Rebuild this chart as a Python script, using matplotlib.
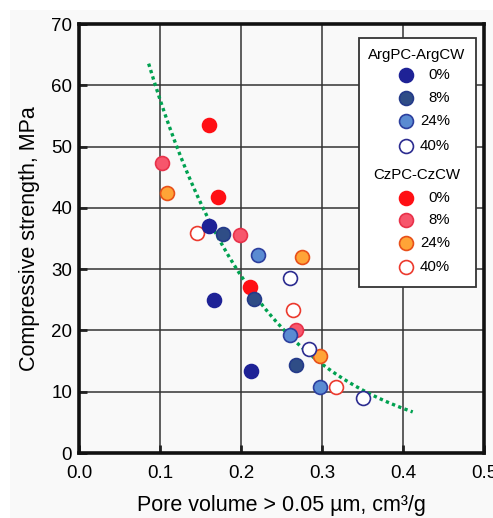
import numpy as np
import matplotlib.pyplot as plt
from matplotlib.patches import Rectangle

plt.rcParams['font.family'] = ['Liberation Sans', 'DejaVu Sans']

# Datos (volumen de poros, resistencia)
arg_0_x = [0.160, 0.167, 0.212]
arg_0_y = [37.0, 24.9, 13.3]
arg_8_x = [0.178, 0.216, 0.268]
arg_8_y = [35.8, 25.2, 14.4]
arg_24_x = [0.221, 0.261, 0.298]
arg_24_y = [32.3, 19.3, 10.7]
arg_40_x = [0.261, 0.284, 0.351]
arg_40_y = [28.5, 16.9, 9.0]

cz_0_x = [0.160, 0.172, 0.211]
cz_0_y = [53.5, 41.8, 27.1]
cz_8_x = [0.102, 0.199, 0.268]
cz_8_y = [47.3, 35.6, 20.0]
cz_24_x = [0.109, 0.275, 0.297]
cz_24_y = [42.4, 32.0, 15.9]
cz_40_x = [0.146, 0.264, 0.317]
cz_40_y = [35.9, 23.4, 10.8]

labels = ['0%', '8%', '24%', '40%']

# Curva de tendencia exponencial y = A*exp(-K*x)
FIT_A = 115.0
FIT_K = 6.9
FIT_XMIN, FIT_XMAX = 0.086, 0.412

# Estilos (relleno, borde)
arg_styles = [('#1e2296', '#1e2296'), ('#2f4d86', '#243a8a'),
              ('#5a8bd2', '#2c3f9e'), ('#ffffff', '#2c2c90')]
cz_styles = [('#ff0f14', '#ff0f14'), ('#f7566c', '#e8324a'),
             ('#ffa437', '#e8501a'), ('#ffffff', '#ec3a2e')]

arg_data = [(arg_0_x, arg_0_y), (arg_8_x, arg_8_y), (arg_24_x, arg_24_y), (arg_40_x, arg_40_y)]
cz_data = [(cz_0_x, cz_0_y), (cz_8_x, cz_8_y), (cz_24_x, cz_24_y), (cz_40_x, cz_40_y)]

BG = '#f9f9f9'
fig = plt.figure(figsize=(4.93, 5.18), dpi=100, facecolor='white')
fig.patches.append(Rectangle((10/493, 0), 1, 508/518, transform=fig.transFigure,
                             facecolor=BG, edgecolor='none', zorder=-10))
ax = fig.add_axes([79/493, 65/518, 405/493, 429/518])
ax.set_facecolor(BG)

ax.set_xlim(0, 0.5)
ax.set_ylim(0, 70)
ax.set_xticks(np.arange(0, 0.51, 0.1))
ax.set_yticks(np.arange(0, 71, 10))
ax.set_xticklabels(['%.1f' % v for v in np.arange(0, 0.51, 0.1)])
ax.grid(True, color='#333333', linewidth=1.1, zorder=0)
ax.tick_params(direction='in', length=6, width=2, labelsize=13.5, color='#222222')
ax.tick_params(axis='x', pad=9)
ax.tick_params(axis='y', pad=5)
for sp in ax.spines.values():
    sp.set_linewidth(2.6)
    sp.set_color('#111111')

# Curva de ajuste
xf = np.linspace(FIT_XMIN, FIT_XMAX, 200)
ax.plot(xf, FIT_A * np.exp(-FIT_K * xf), color='#00a150', linewidth=2.4,
        linestyle=(0, (1, 1)), dash_capstyle='butt', zorder=3)

# Puntos
for (xs, ys), (fc, ec) in zip(cz_data, cz_styles):
    ax.plot(xs, ys, 'o', ms=10, mfc=fc, mec=ec, mew=1.2, zorder=4)
for (xs, ys), (fc, ec) in zip(arg_data, arg_styles):
    ax.plot(xs, ys, 'o', ms=10, mfc=fc, mec=ec, mew=1.2, zorder=4)

ax.set_xlabel('Pore volume > 0.05 µm, cm³/g', fontsize=15.5, labelpad=9)
ax.set_ylabel('Compressive strength, MPa', fontsize=15.5, labelpad=8)

# Leyenda dibujada a mano con dos bloques
def ay(py):
    return (453 - py) / 429.0

def axx(px):
    return (px - 79) / 405.0

ax.add_patch(Rectangle((axx(359), ay(287)), axx(476) - axx(359), ay(38) - ay(287),
                       transform=ax.transAxes, facecolor='white', edgecolor='#333333',
                       linewidth=1.3, zorder=6))

blocks = [('ArgPC-ArgCW', 55, [75, 98, 121, 146], arg_styles),
          ('CzPC-CzCW', 175, [198, 220, 243, 267], cz_styles)]
for title, ty, rows, styles in blocks:
    ax.text(axx(417), ay(ty), title, transform=ax.transAxes, ha='center', va='center',
            fontsize=10.8, zorder=7)
    for py, lab, (fc, ec) in zip(rows, labels, styles):
        ax.plot([axx(406)], [ay(py)], 'o', ms=10, mfc=fc, mec=ec, mew=1.2,
                transform=ax.transAxes, clip_on=False, zorder=7)
        ax.text(axx(450), ay(py), lab, transform=ax.transAxes, ha='right', va='center',
                fontsize=10.8, zorder=7)

fig.savefig('out.png', dpi=100, facecolor=fig.get_facecolor())
